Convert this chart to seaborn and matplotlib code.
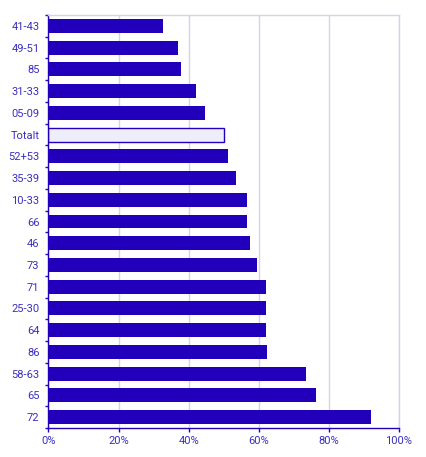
import pandas as pd
import seaborn as sns
import matplotlib.pyplot as plt
from matplotlib.ticker import FuncFormatter

# Share per group, in percent
categories = ['41-43', '49-51', '85', '31-33', '05-09', 'Totalt', '52+53', '35-39',
              '10-33', '66', '46', '73', '71', '25-30', '64', '86', '58-63', '65', '72']
values = [32.7, 36.9, 37.8, 42.1, 44.7, 50.0, 51.2, 53.5,
          56.6, 56.6, 57.5, 59.5, 62.0, 62.0, 62.0, 62.3, 73.5, 76.3, 92.0]
x_ticks = [0, 20, 40, 60, 80, 100]

bar_color = '#2200bb'
total_fill = '#ededfb'
text_color = '#3a2fc0'
grid_color = '#d6d2ea'

data = pd.DataFrame({'group': categories, 'share': values})

sns.set_style('white')
plt.rcParams['font.family'] = ['Roboto', 'DejaVu Sans']

fig = plt.figure(figsize=(4.27, 4.57), dpi=100)
ax = fig.add_axes([48.5 / 427, 1 - 428 / 457, (399 - 48.5) / 427, (428 - 15) / 457])

palette = {g: (total_fill if g == 'Totalt' else bar_color) for g in categories}
sns.barplot(data=data, x='share', y='group', hue='group', palette=palette,
            order=categories, legend=False, width=0.64, saturation=1, ax=ax)

# outline the total bar
for patch, g in zip(ax.patches, categories):
    if g == 'Totalt':
        patch.set_edgecolor(bar_color)
        patch.set_linewidth(1.0)
    else:
        patch.set_linewidth(0)

ax.set_xlim(0, 100)
ax.set_ylim(len(categories) - 0.5, -0.5)
ax.set_xticks(x_ticks)
ax.xaxis.set_major_formatter(FuncFormatter(lambda v, p: f'{v:.0f}%'))
ax.set_xlabel('')
ax.set_ylabel('')

# ticks on the left sit between the bars
ax.set_yticks(range(len(categories)))
ax.set_yticklabels(categories)
ax.set_yticks([i - 0.5 for i in range(len(categories) + 1)], minor=True)
ax.tick_params(axis='y', which='major', length=0, pad=6.5, labelsize=8, labelcolor=text_color)
ax.tick_params(axis='y', which='minor', length=2.5, width=1, color=bar_color, left=True)
ax.tick_params(axis='x', which='major', length=3, width=1, color=bar_color, pad=3,
               labelsize=8, labelcolor=text_color, bottom=True)

ax.grid(axis='x', color=grid_color, linewidth=1)
ax.set_axisbelow(True)
ax.spines['left'].set_color(bar_color)
ax.spines['bottom'].set_color(bar_color)
ax.spines['top'].set_color(grid_color)
ax.spines['right'].set_color(grid_color)
for s in ax.spines.values():
    s.set_linewidth(1)

plt.savefig('out.png', dpi=100)
